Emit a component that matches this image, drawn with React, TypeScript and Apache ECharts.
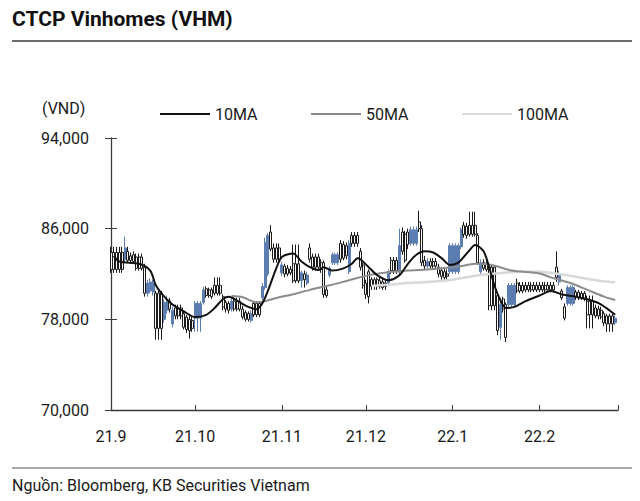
import React, { useEffect, useRef } from 'react';
import * as echarts from 'echarts';

// Trading-day bars (Bloomberg style: non-trading days repeat the previous bar)
const barDates = [
  '2021-09-01','2021-09-06','2021-09-07','2021-09-08','2021-09-09','2021-09-10','2021-09-13','2021-09-14','2021-09-15','2021-09-16','2021-09-17','2021-09-20','2021-09-21','2021-09-22','2021-09-23','2021-09-24','2021-09-27','2021-09-28','2021-09-29','2021-09-30',
  '2021-10-01','2021-10-04','2021-10-05','2021-10-06','2021-10-07','2021-10-08','2021-10-11','2021-10-12','2021-10-13','2021-10-14','2021-10-15','2021-10-18','2021-10-19','2021-10-20','2021-10-21','2021-10-22','2021-10-25','2021-10-26','2021-10-27','2021-10-28','2021-10-29',
  '2021-11-01','2021-11-02','2021-11-03','2021-11-04','2021-11-05','2021-11-08','2021-11-09','2021-11-10','2021-11-11','2021-11-12','2021-11-15','2021-11-16','2021-11-17','2021-11-18','2021-11-19','2021-11-22','2021-11-23','2021-11-24','2021-11-25','2021-11-26','2021-11-29','2021-11-30',
  '2021-12-01','2021-12-02','2021-12-03','2021-12-06','2021-12-07','2021-12-08','2021-12-09','2021-12-10','2021-12-13','2021-12-14','2021-12-15','2021-12-16','2021-12-17','2021-12-20','2021-12-21','2021-12-22','2021-12-23','2021-12-24','2021-12-27','2021-12-28','2021-12-29','2021-12-30','2021-12-31',
  '2022-01-04','2022-01-05','2022-01-06','2022-01-07','2022-01-10','2022-01-11','2022-01-12','2022-01-13','2022-01-14','2022-01-17','2022-01-18','2022-01-19','2022-01-20','2022-01-21','2022-01-24','2022-01-25','2022-01-26','2022-01-27','2022-01-28',
  '2022-02-07','2022-02-08','2022-02-09','2022-02-10','2022-02-11','2022-02-14','2022-02-15','2022-02-16','2022-02-17','2022-02-18','2022-02-21','2022-02-22','2022-02-23','2022-02-24','2022-02-25','2022-02-28',
];
const openPx = [
  83900,83300,84000,83600,83700,83500,82600,80300,80500,80400,80300,78000,78800,79600,77600,79000,78500,78200,78000,77900,
  78100,79500,80700,80600,80600,81000,80000,79500,79400,78900,79600,78900,78600,78500,77900,79400,79900,80800,82000,85700,84300,
  82100,82700,82500,82400,82900,81400,82000,81200,84300,83500,83000,83000,80600,81900,83000,84700,84600,84500,82200,85400,84000,82800,
  81200,82200,81500,81400,81300,81200,81200,83200,82200,85700,85500,85700,84700,86600,86000,83200,82700,83100,82600,82300,82200,82000,82200,
  84400,86300,86200,86300,85400,82200,83000,82900,82600,80100,77300,79800,79300,79300,81200,81000,81000,81000,81000,
  82600,81300,80500,79100,79400,80400,80400,80300,80300,79600,79000,78900,78800,78500,78300,77700,
];
const closePx = [
  82400,84300,83200,83200,83100,82500,80300,81200,81300,81200,77200,79500,79700,78900,78800,78300,77300,77100,77000,77200,
  79400,80600,80100,80100,80000,80300,79100,78900,78800,79600,78900,78200,78000,78000,78500,78400,80900,84800,85400,84200,83300,
  82800,82000,82000,82100,81400,82100,81500,81900,83300,82600,82400,80200,80100,82500,83700,83300,83400,83600,84700,84700,82600,81000,
  80200,80000,80900,80900,80800,80900,82200,82300,84500,84000,83200,84600,85900,86000,83000,82700,83100,82700,82000,81800,81700,81800,84500,
  85900,85500,85400,85500,83000,83000,82500,82400,79200,77000,79300,78900,76400,81000,80500,80500,80500,80600,80600,
  81700,82000,79900,78100,80800,80000,79900,79900,79800,78400,78300,78300,78200,77700,77600,78100,
];
const lowPx = [
  82100,83000,83000,82900,82900,82300,80000,80000,80300,80100,76200,77700,78500,78600,77300,78000,77100,76800,76300,76900,
  76900,79300,79900,79900,79800,80100,78800,78600,78500,78700,78700,78000,77800,77800,77700,78200,79700,80600,81800,84000,83000,
  81800,81700,81800,81900,81200,80800,80800,81000,83000,82300,82100,79900,79900,81700,82800,83000,83200,83300,82000,84400,82300,80700,
  79800,79400,80600,80700,80600,80600,81000,82000,82000,83700,83000,84200,84500,85700,82700,82400,82500,82400,81700,81500,81400,81500,82000,
  84200,85200,85100,85300,82800,81900,82300,82200,78800,76600,76200,78600,76000,79000,80300,80300,80300,80400,80400,
  81300,81000,79700,77900,79200,79700,79700,79700,79600,77200,78100,78000,78000,77400,76900,77500,
];
const highPx = [
  84400,85300,84400,83900,84000,83800,82900,81500,81600,81500,80500,79800,80100,79900,79100,79300,78700,78400,78300,78200,
  79600,80900,80900,80800,80800,81700,80200,79700,79600,79900,79900,79200,78800,78700,78800,79600,81200,85200,85600,86300,84700,
  83100,82900,82800,82700,84600,82300,82300,82200,84700,83800,83300,83200,80900,82700,83900,85000,84900,84800,85000,85700,84300,83000,
  81500,82400,81700,81700,81600,81500,82400,83500,86000,86100,85800,86000,86200,87600,86300,83600,83400,83400,82900,82600,82500,82400,84700,
  86100,86600,86500,87500,85600,83300,83300,83200,82800,80300,79600,80000,79500,81200,81600,81300,81300,81300,81300,
  84000,82300,80700,79400,81000,80600,80600,80500,80500,80100,79300,79200,79100,78700,78500,78300,
];

// Moving averages
const ma10Dates = ['2021-09-02','2021-09-04','2021-09-11','2021-09-15','2021-09-17','2021-09-20','2021-09-23','2021-09-27','2021-10-01','2021-10-05','2021-10-08','2021-10-11','2021-10-13','2021-10-17','2021-10-20','2021-10-23','2021-10-25','2021-10-27','2021-10-30','2021-11-01','2021-11-05','2021-11-08','2021-11-11','2021-11-14','2021-11-16','2021-11-19','2021-11-23','2021-11-26','2021-11-28','2021-11-29','2021-12-02','2021-12-05','2021-12-09','2021-12-13','2021-12-16','2021-12-19','2021-12-22','2021-12-25','2021-12-28','2021-12-31','2022-01-03','2022-01-07','2022-01-09','2022-01-12','2022-01-14','2022-01-16','2022-01-18','2022-01-20','2022-01-23','2022-01-27','2022-02-01','2022-02-05','2022-02-09','2022-02-14','2022-02-19','2022-02-23','2022-02-28'];
const ma10Values = [83600,83100,82900,82300,81000,80000,79300,78700,78200,78400,79000,79800,80000,79500,79100,78900,79400,80500,82500,83500,83800,83100,82600,82350,82600,82300,82500,82900,83400,83300,82600,81900,81450,81900,82900,83700,84000,83900,83400,82800,83000,84100,84550,84000,82600,80900,79700,79000,79100,79600,80100,80500,80200,80000,79700,79300,78400];
const ma50Dates = ['2021-10-14','2021-10-18','2021-10-23','2021-10-26','2021-10-31','2021-11-04','2021-11-11','2021-11-18','2021-11-25','2021-12-02','2021-12-09','2021-12-16','2021-12-23','2021-12-28','2022-01-03','2022-01-09','2022-01-15','2022-01-22','2022-02-01','2022-02-05','2022-02-12','2022-02-18','2022-02-24','2022-02-28'];
const ma50Values = [80050,79950,79500,79600,79950,80150,80600,81000,81450,81900,82150,82300,82400,82500,82650,82900,82800,82300,82050,81700,81200,80600,80000,79700];
const ma100Dates = ['2021-12-03','2021-12-09','2021-12-16','2021-12-23','2022-01-01','2022-01-09','2022-01-16','2022-01-25','2022-02-01','2022-02-08','2022-02-14','2022-02-21','2022-02-28'];
const ma100Values = [80950,81050,81200,81300,81500,81850,82050,82200,82200,82000,81750,81450,81250];

const yMin = 70000;
const yMax = 94000;
const yStep = 8000;
const axisStart = '2021-09-01';
const axisEnd = '2022-03-01';

const FONT = 'Roboto';
const TEXT = '#1a1a1a';

function buildDays(): string[] {
  const out: string[] = [];
  const start = Date.parse(axisStart + 'T00:00:00Z');
  const end = Date.parse(axisEnd + 'T00:00:00Z');
  for (let t = start; t <= end; t += 86400000) out.push(new Date(t).toISOString().slice(0, 10));
  return out;
}

export default function App() {
  const ref = useRef<HTMLDivElement>(null);
  useEffect(() => {
    if (!ref.current) return;
    const chart = echarts.init(ref.current, undefined, { renderer: 'svg' });
    const days = buildDays();
    const lastIdx = days.length - 1;
    const candles: any[] = [];
    let j = -1;
    days.forEach((d, i) => {
      while (j + 1 < barDates.length && barDates[j + 1] <= d) j++;
      if (j < 0 || i === lastIdx) candles.push('-');
      else candles.push([openPx[j], closePx[j], lowPx[j], highPx[j]]);
    });
    const toLine = (ds: string[], vs: number[]) => ds.map((d, i) => [days.indexOf(d), vs[i]]);
    const isMonthStart = (v: string) => v.slice(8, 10) === '01';
    const legendBase = {
      icon: 'rect', itemWidth: 50, itemHeight: 2, padding: 0, itemGap: 0, selectedMode: false,
      textStyle: { fontFamily: FONT, fontSize: 16, color: TEXT },
    };
    chart.setOption({
      animation: false,
      backgroundColor: '#ffffff',
      title: {
        text: 'CTCP Vinhomes (VHM)', left: 12, top: 8, padding: 0,
        textStyle: { fontFamily: FONT, fontSize: 21, fontWeight: 'bold', color: '#111' },
      },
      legend: [
        { ...legendBase, data: ['10MA'], left: 160, top: 106 },
        { ...legendBase, data: ['50MA'], left: 311, top: 106 },
        { ...legendBase, data: ['100MA'], left: 462, top: 106 },
      ],
      grid: { left: 111, right: 22, top: 138, bottom: 91, containLabel: false },
      xAxis: {
        type: 'category', data: days, boundaryGap: false,
        axisLine: { lineStyle: { color: '#3a3a3a', width: 1.3 } },
        axisTick: { show: true, inside: true, length: 5, interval: (i: number, v: string) => isMonthStart(v), lineStyle: { color: '#3a3a3a' } },
        axisLabel: {
          interval: (i: number, v: string) => isMonthStart(v) && v !== axisEnd,
          formatter: (v: string) => `${v.slice(2, 4)}.${parseInt(v.slice(5, 7), 10)}`,
          fontFamily: FONT, fontSize: 16, color: TEXT, margin: 18,
        },
        splitLine: { show: false },
      },
      yAxis: [
        {
          type: 'value', min: yMin, max: yMax, interval: yStep,
          axisLine: { show: true, lineStyle: { color: '#3a3a3a', width: 1.3 } },
          axisTick: { show: true, inside: true, length: 6, lineStyle: { color: '#3a3a3a' } },
          axisLabel: { fontFamily: FONT, fontSize: 16, color: TEXT, margin: 22, formatter: (v: number) => v.toLocaleString('en-US') },
          splitLine: { show: false },
        },
        {
          type: 'value', min: yMin, max: yMax, interval: yStep, position: 'left', offset: 0,
          axisLine: { show: false },
          axisTick: { show: true, inside: false, length: 6, lineStyle: { color: '#3a3a3a' } },
          axisLabel: { show: false },
          splitLine: { show: false },
        },
      ],
      graphic: [
        { type: 'line', shape: { x1: 12, y1: 41, x2: 632, y2: 41 }, style: { stroke: '#6b6b6b', lineWidth: 2 } },
        { type: 'line', shape: { x1: 12, y1: 468, x2: 632, y2: 468 }, style: { stroke: '#555', lineWidth: 1 } },
        { type: 'text', x: 42, y: 108, style: { text: '(VND)', fontFamily: FONT, fontSize: 16, fill: TEXT, verticalAlign: 'middle' } },
        { type: 'text', x: 12, y: 485, style: { text: 'Nguồn: Bloomberg, KB Securities Vietnam', fontFamily: FONT, fontSize: 16, fill: TEXT, verticalAlign: 'middle' } },
      ],
      series: [
        {
          type: 'candlestick', name: 'VHM', data: candles, barWidth: 2.5,
          itemStyle: { color: '#5b7db0', borderColor: '#5b7db0', color0: '#ffffff', borderColor0: '#1a1a1a', borderWidth: 1 },
        },
        { type: 'line', name: '100MA', data: toLine(ma100Dates, ma100Values), color: '#d9d9d9', showSymbol: false, smooth: 0.3, lineStyle: { width: 2.5, color: '#d9d9d9' } },
        { type: 'line', name: '50MA', data: toLine(ma50Dates, ma50Values), color: '#8c8c8c', showSymbol: false, smooth: 0.3, lineStyle: { width: 2, color: '#8c8c8c' } },
        { type: 'line', name: '10MA', data: toLine(ma10Dates, ma10Values), color: '#111111', showSymbol: false, smooth: 0.3, lineStyle: { width: 2, color: '#111111' } },
      ],
    });
    return () => chart.dispose();
  }, []);
  return <div ref={ref} style={{ position: 'absolute', left: 0, top: 0, width: 640, height: 501, background: '#fff' }} />;
}
